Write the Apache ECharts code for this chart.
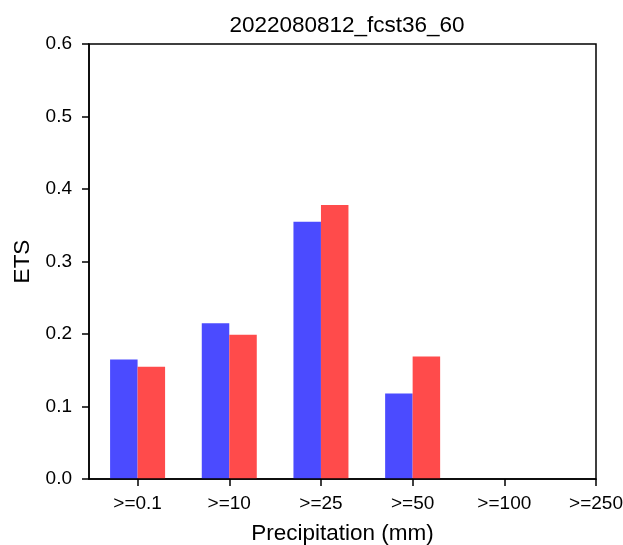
<!DOCTYPE html>
<html>
<head>
<meta charset="utf-8">
<script src="https://cdn.jsdelivr.net/npm/echarts@6/dist/echarts.min.js"></script>
<style>
	html, body {margin: 0; padding: 0; background: #fff;}
	#chart {width: 623px; height: 545px;}
</style>
</head>
<body>
<div id="chart"></div>
<script>
let categories = [">=0.1", ">=10", ">=25", ">=50", ">=100", ">=250"]
let blueValues = [0.165, 0.215, 0.355, 0.118, 0, 0]
let redValues = [0.155, 0.199, 0.378, 0.169, 0, 0]

let font = "Liberation Sans, Arial, sans-serif"

// bars sit either side of the tick, each 0.3 of a category wide
function shifted(values, offset) {
	return values.map(function (v, i) {
		return [i + offset, v]
	})
}

let tickPositions = categories.map((c, i) => i)

let chart = echarts.init(document.getElementById("chart"))
let option = {
	animation: false,
	title: {
		text: "2022080812_fcst36_60",
		left: 342,
		top: 9,
		textAlign: "center",
		textStyle: {fontFamily: font, fontSize: 22.5, fontWeight: "normal", color: "#000"}
	},
	grid: {left: 89, right: 27, top: 44, bottom: 66, outerBoundsMode: "none", containLabel: false},
	xAxis: {
		type: "value",
		min: -0.53,
		max: 5,
		name: "Precipitation (mm)",
		nameLocation: "middle",
		nameGap: 43,
		nameTextStyle: {fontFamily: font, fontSize: 22.5, color: "#000"},
		splitLine: {show: false},
		axisLine: {show: true, onZero: false, lineStyle: {color: "#000", width: 1.5}},
		axisTick: {show: true, length: 7, customValues: tickPositions, lineStyle: {color: "#000", width: 1.5}},
		axisLabel: {
			customValues: tickPositions,
			margin: 15,
			fontFamily: font, fontSize: 19, color: "#000",
			formatter: function (v) {
				return categories[Math.round(v)]
			}
		}
	},
	yAxis: {
		type: "value",
		min: 0,
		max: 0.6,
		interval: 0.1,
		name: "ETS",
		nameLocation: "middle",
		nameGap: 55,
		nameTextStyle: {fontFamily: font, fontSize: 22.5, color: "#000"},
		splitLine: {show: false},
		axisLine: {show: true, onZero: false, lineStyle: {color: "#000", width: 1.5}},
		axisTick: {show: true, length: 7, lineStyle: {color: "#000", width: 1.5}},
		axisLabel: {
			margin: 17,
			fontFamily: font, fontSize: 19, color: "#000",
			formatter: function (v) {
				return v.toFixed(1)
			}
		}
	},
	series: [
		{
			type: "bar",
			name: "blue",
			data: shifted(blueValues, -0.15),
			barWidth: 27.5,
			barGap: "-100%",
			itemStyle: {color: "#4b4bff"}
		},
		{
			type: "bar",
			name: "red",
			data: shifted(redValues, 0.15),
			barWidth: 27.5,
			barGap: "-100%",
			itemStyle: {color: "#ff4b4b"}
		}
	]
}
chart.setOption(option)

// draw the top and right spines around the grid
let rect = chart.getModel().getComponent("grid").coordinateSystem.getRect()
chart.setOption({
	graphic: [{
		type: "rect",
		shape: {x: rect.x, y: rect.y, width: rect.width, height: rect.height},
		style: {fill: null, stroke: "#000", lineWidth: 1.5},
		silent: true,
		z: 10
	}]
})
</script>
</body>
</html>
